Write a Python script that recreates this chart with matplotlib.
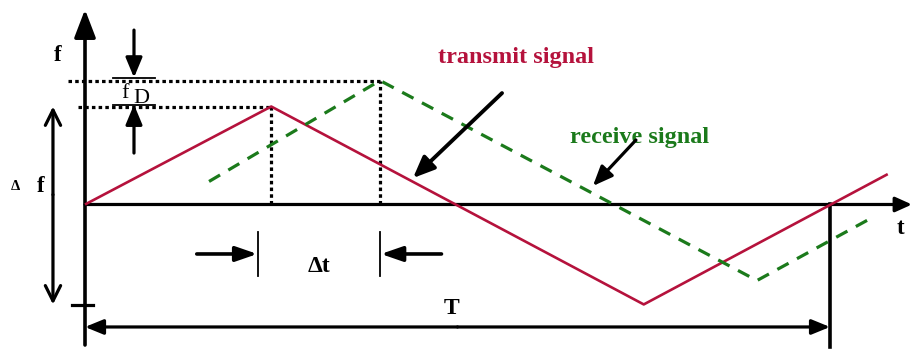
import matplotlib
matplotlib.use("Agg")
import matplotlib.pyplot as plt

# time in quarter periods, frequency in units of the sweep half-height
period = 4.0
t_tx = [0.0, 1.0, 3.0, 4.31]
f_tx = [0.0, 1.0, -1.02, 0.31]
t_rx = [0.666, 1.584, 3.608, 4.23]
f_rx = [0.235, 1.265, -0.776, -0.13]

RED = "#b5123c"
GREEN = "#1b7a1b"
SERIF = ["Liberation Serif", "DejaVu Serif"]

fig = plt.figure(figsize=(9.13, 3.5), dpi=100)
ax = fig.add_axes([0, 0, 1, 1])
ax.set_xlim(-0.4564, 4.4456)
ax.set_ylim(-1.485, 2.087)
ax.axis("off")


def arrow(x0, y0, x1, y1, style="-|>", hl=1.5, hw=0.6, lw=2.3):
    ax.annotate("", xy=(x1, y1), xytext=(x0, y0),
                arrowprops=dict(arrowstyle=f"{style},head_length={hl},head_width={hw}",
                                lw=lw, color="black", shrinkA=0, shrinkB=0,
                                mutation_scale=10))


def label(x, y, s, size=14, color="black", weight="bold", **kw):
    ax.text(x, y, s, fontsize=size, color=color, fontweight=weight,
            family=SERIF, ha="center", va="center", **kw)


# axes with arrows
arrow(0, -1.434, 0, 1.99, hl=1.7, hw=0.65, lw=2.6)
arrow(0, 0, 4.44, 0, hl=1.0, hw=0.45, lw=2.3)
label(-0.145, 1.52, "f", size=16.5)
label(4.376, -0.24, "t", size=16.5)

# signals
ax.plot(t_tx, f_tx, color=RED, lw=1.9, solid_capstyle="butt", zorder=3)
ax.plot(t_rx, f_rx, color=GREEN, lw=2.3, linestyle=(0, (4, 3)), zorder=3)

# dotted guides from the peaks
dot = dict(color="black", lw=2.3, linestyle=(0, (1.1, 1.0)))
ax.plot([-0.091, t_rx[1]], [f_rx[1], f_rx[1]], **dot)
ax.plot([-0.038, t_tx[1]], [f_tx[1], f_tx[1]], **dot)
ax.plot([t_tx[1], t_tx[1]], [0, f_tx[1]], **dot)
ax.plot([t_rx[1], t_rx[1]], [0, f_rx[1]], **dot)

# Doppler shift fD
ax.plot([0.15, 0.376], [f_rx[1] + 0.03, f_rx[1] + 0.03], color="black", lw=1.3)
ax.plot([0.15, 0.376], [f_tx[1] + 0.02, f_tx[1] + 0.02], color="black", lw=1.3)
arrow(0.263, 1.78, 0.263, f_rx[1] + 0.03, hl=1.2, hw=0.5, lw=2.3)
arrow(0.263, 0.525, 0.263, f_tx[1] + 0.02, hl=1.2, hw=0.5, lw=2.3)
label(0.215, 1.13, "f", weight="normal", size=16)
label(0.3, 1.08, "D", weight="normal", size=16)

# sweep bandwidth
arrow(-0.172, 0.1, -0.172, f_tx[1], style="->", hl=1.1, hw=0.55, lw=2.3)
arrow(-0.172, 0.1, -0.172, f_tx[2], style="->", hl=1.1, hw=0.55, lw=2.3)
label(-0.372, 0.18, "Δ", size=10.5)
label(-0.24, 0.18, "f", size=16.5)
ax.plot([-0.07, 0.043], [f_tx[2] - 0.005, f_tx[2] - 0.005], color="black", lw=2.3)

# period T
arrow(period / 2, -1.25, 0, -1.25, hl=1.1, hw=0.45, lw=2.3)
arrow(period / 2, -1.25, period, -1.25, hl=1.1, hw=0.45, lw=2.3)
ax.plot([period, period], [0, -1.454], color="black", lw=2.6)
label(period / 2 - 0.03, -1.06, "T", size=17)

# delay dt
ax.plot([t_tx[1] - 0.07, t_tx[1] - 0.07], [-0.28, -0.73], color="black", lw=1.3)
ax.plot([t_rx[1], t_rx[1]], [-0.28, -0.73], color="black", lw=1.3)
arrow(t_tx[1] - 0.40, -0.505, t_tx[1] - 0.075, -0.505, hl=1.3, hw=0.45, lw=2.6)
arrow(t_rx[1] + 0.33, -0.505, t_rx[1] + 0.005, -0.505, hl=1.3, hw=0.45, lw=2.6)
label(1.256, -0.628, "Δt", size=17)

# signal names
label(2.314, 1.5, "transmit signal", size=17.5, color=RED)
arrow(2.239, 1.137, 1.761, 0.27, style="-|>", hl=1.3, hw=0.55, lw=2.8)
label(2.975, 0.68, "receive signal", size=17.5, color=GREEN)
arrow(2.958, 0.658, 2.727, 0.189, style="-|>", hl=1.2, hw=0.5, lw=2.3)

fig.savefig("out.png", dpi=100, facecolor="white")
